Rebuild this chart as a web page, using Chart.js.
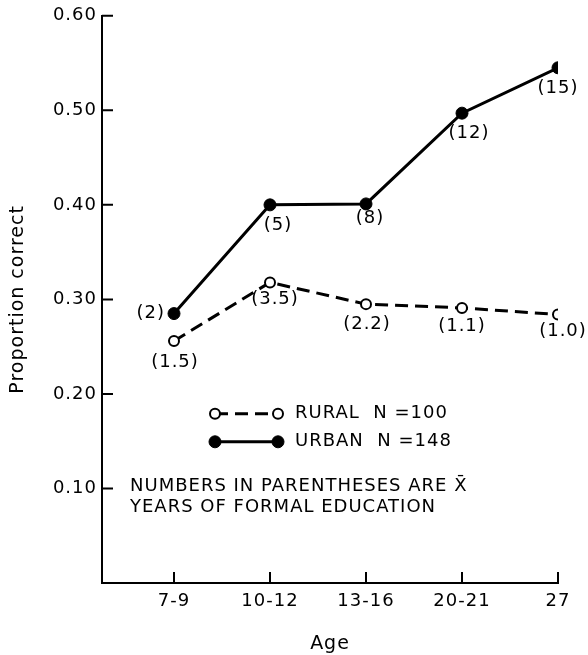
<!DOCTYPE html>
<html>
<head>
<meta charset="utf-8">
<script src="https://cdn.jsdelivr.net/npm/chart.js@4"></script>
<style>
    html, body { margin: 0; padding: 0; background: #fff; }
    canvas { display: block; }
</style>
</head>
<body>
<canvas id="ageChart" width="588" height="655"></canvas>
<script>

/* =========================================================
   1. DATA
========================================================= */

const ageGroups = ['7-9', '10-12', '13-16', '20-21', '27'];

const ruralValues = [0.256, 0.318, 0.295, 0.291, 0.284];
const urbanValues = [0.285, 0.400, 0.401, 0.497, 0.545];

// mean years of formal education, shown in parentheses
const ruralSchooling = ['(1.5)', '(3.5)', '(2.2)', '(1.1)', '(1.0)'];
const urbanSchooling = ['(2)', '(5)', '(8)', '(12)', '(15)'];

const yTicks = [0.1, 0.2, 0.3, 0.4, 0.5, 0.6];

const legendLabels = ['RURAL  N =100', 'URBAN  N =148'];
const noteLines = [
    'NUMBERS IN PARENTHESES ARE X\u0304',
    'YEARS OF FORMAL EDUCATION'
];

/* =========================================================
   2. HELPERS
========================================================= */

const FONT = '"DejaVu Sans", sans-serif';

function toPoints(values) {
    return values.map((v, i) => ({ x: i + 1, y: v }));
}

/* =========================================================
   3. PLUGINS
========================================================= */

// slightly wider letter spacing, like the original lettering
const spacingPlugin = {
    id: 'spacing',
    beforeUpdate(chart) { chart.ctx.letterSpacing = '1px'; },
    beforeDraw(chart) { chart.ctx.letterSpacing = '1px'; }
};

// tick marks that point into the plot area
const innerTicks = {
    id: 'innerTicks',
    afterDraw(chart) {
        const { ctx, chartArea, scales } = chart;
        const len = 11;

        ctx.save();
        ctx.strokeStyle = '#000';
        ctx.lineWidth = 2;
        ctx.beginPath();

        scales.y.ticks.forEach(t => {
            if (t.value === 0) return;
            const y = scales.y.getPixelForValue(t.value);
            ctx.moveTo(chartArea.left, y);
            ctx.lineTo(chartArea.left + len, y);
        });

        scales.x.ticks.forEach(t => {
            const x = scales.x.getPixelForValue(t.value);
            ctx.moveTo(x, chartArea.bottom);
            ctx.lineTo(x, chartArea.bottom - len);
        });

        ctx.stroke();
        ctx.restore();
    }
};

// "(n)" labels next to each point
const pointLabels = {
    id: 'pointLabels',
    afterDatasetsDraw(chart, args, opts) {
        const { ctx } = chart;

        ctx.save();
        ctx.font = '18px ' + FONT;
        ctx.fillStyle = '#000';
        ctx.textBaseline = 'middle';

        chart.data.datasets.forEach((ds, di) => {
            const meta = chart.getDatasetMeta(di);
            const offsets = opts.offsets[di];

            meta.data.forEach((pt, i) => {
                const [dx, dy, align] = offsets[i];
                ctx.textAlign = align || 'center';
                ctx.fillText(ds.notes[i], pt.x + dx, pt.y + dy);
            });
        });

        ctx.restore();
    }
};

// legend + note drawn inside the plot, like the original
const insideLegend = {
    id: 'insideLegend',
    afterDraw(chart) {
        const { ctx, chartArea } = chart;
        const x0 = chartArea.left + 113;
        const x1 = chartArea.left + 176;
        const rows = [chartArea.top + 398, chartArea.top + 426];

        ctx.save();
        ctx.font = '18px ' + FONT;
        ctx.fillStyle = '#000';
        ctx.textBaseline = 'middle';
        ctx.textAlign = 'left';

        chart.data.datasets.forEach((ds, di) => {
            const y = rows[di];

            ctx.strokeStyle = ds.borderColor;
            ctx.lineWidth = ds.borderWidth;
            ctx.setLineDash(ds.borderDash || []);
            ctx.beginPath();
            ctx.moveTo(x0, y);
            ctx.lineTo(x1, y);
            ctx.stroke();
            ctx.setLineDash([]);

            [x0, x1].forEach(x => {
                ctx.beginPath();
                ctx.arc(x, y, ds.pointRadius, 0, Math.PI * 2);
                ctx.fillStyle = ds.pointBackgroundColor;
                ctx.fill();
                ctx.lineWidth = ds.pointBorderWidth;
                ctx.strokeStyle = ds.pointBorderColor;
                ctx.stroke();
            });

            ctx.fillStyle = '#000';
            ctx.fillText(legendLabels[di], x1 + 17, y);
        });

        noteLines.forEach((line, i) => {
            ctx.fillText(line, chartArea.left + 28, chartArea.top + 471 + i * 21);
        });

        ctx.restore();
    }
};

/* =========================================================
   4. CHART
========================================================= */

new Chart(document.getElementById('ageChart'), {
    type: 'line',
    data: {
        datasets: [
            {
                label: 'Rural',
                data: toPoints(ruralValues),
                notes: ruralSchooling,
                borderColor: '#000',
                borderWidth: 3,
                borderDash: [13, 7],
                pointRadius: 5,
                pointBackgroundColor: '#fff',
                pointBorderColor: '#000',
                pointBorderWidth: 2,
                tension: 0
            },
            {
                label: 'Urban',
                data: toPoints(urbanValues),
                notes: urbanSchooling,
                borderColor: '#000',
                borderWidth: 3,
                pointRadius: 6,
                pointBackgroundColor: '#000',
                pointBorderColor: '#000',
                pointBorderWidth: 1,
                tension: 0
            }
        ]
    },
    options: {
        responsive: false,
        animation: false,
        layout: {
            padding: { top: 15, right: 30, left: 0, bottom: 0 }
        },
        plugins: {
            legend: { display: false },
            tooltip: { enabled: false },
            pointLabels: {
                offsets: [
                    [[1, 21], [5, 17], [1, 20], [0, 18], [5, 17]],
                    [[-9, 0, 'right'], [8, 20], [4, 14], [7, 20], [0, 21]]
                ]
            }
        },
        scales: {
            x: {
                type: 'linear',
                min: 0.25,
                max: 5,
                afterBuildTicks(scale) {
                    scale.ticks = ageGroups.map((_, i) => ({ value: i + 1 }));
                },
                afterFit(scale) { scale.height = 72; },
                grid: { display: false, drawTicks: false },
                border: { display: true, color: '#000', width: 2 },
                ticks: {
                    padding: 8,
                    color: '#000',
                    font: { family: FONT, size: 18 },
                    maxRotation: 0,
                    callback: v => ageGroups[v - 1]
                },
                title: {
                    display: true,
                    text: 'Age',
                    color: '#000',
                    font: { family: FONT, size: 19 },
                    padding: 0
                }
            },
            y: {
                min: 0,
                max: 0.6,
                afterBuildTicks(scale) {
                    scale.ticks = [0, ...yTicks].map(v => ({ value: v }));
                },
                afterFit(scale) { scale.width = 102; },
                grid: { display: false, drawTicks: false },
                border: { display: true, color: '#000', width: 2 },
                ticks: {
                    padding: 5,
                    color: '#000',
                    font: { family: FONT, size: 18 },
                    callback: v => (v === 0 ? '' : v.toFixed(2))
                },
                title: {
                    display: true,
                    text: 'Proportion correct',
                    color: '#000',
                    font: { family: FONT, size: 19 },
                    padding: { top: 7, bottom: 0 }
                }
            }
        }
    },
    plugins: [spacingPlugin, innerTicks, pointLabels, insideLegend]
});
</script>
</body>
</html>
